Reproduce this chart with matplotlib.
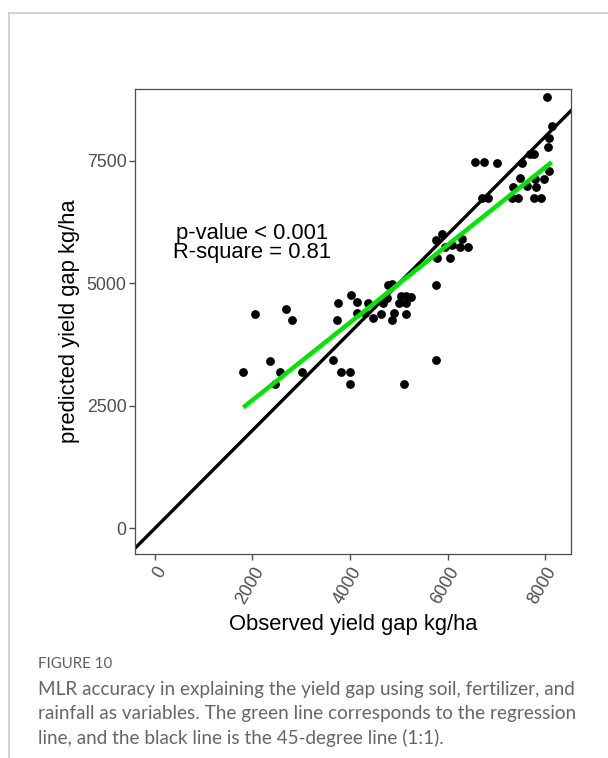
import numpy as np
import matplotlib.pyplot as plt
from matplotlib.lines import Line2D

# observed vs predicted yield gap (kg/ha)
observed = [1814, 2054, 2367, 2464, 2566, 2683, 2818, 3017,
            3645, 3809, 4000, 4000, 5099, 5761,
            3727, 3760, 4014, 4149, 4137, 4307, 4374, 4477, 4628, 4682,
            4751, 4784, 4854, 4854, 4901, 5000, 5150, 5040, 5140, 5250,
            5146, 5761,
            5761, 5878, 5787, 5945, 6047, 6082, 6287, 6252, 6422,
            6560, 6750, 7004, 6697, 6820, 7311, 7446, 7774, 7911,
            7332, 7481, 7618, 7788, 7809, 7973, 8081, 7516, 7686, 7774,
            8061, 8081, 8130, 8028]
predicted = [3194, 4378, 3424, 2949, 3194, 4486, 4255, 3194,
             3430, 3194, 3194, 2949, 2949, 3439,
             4255, 4596, 4765, 4629, 4392, 4392, 4596, 4290, 4378, 4596,
             4710, 4969, 4984, 4255, 4392, 4600, 4600, 4750, 4735, 4731,
             4378, 4969,
             5888, 6010, 5514, 5751, 5514, 5786, 5902, 5751, 5751,
             7473, 7486, 7465, 6739, 6739, 6739, 6739, 6739, 6739,
             6976, 7147, 6990, 7127, 6963, 7127, 7302, 7453, 7637, 7637,
             7780, 7963, 8214, 8800]

x_ticks = [0, 2000, 4000, 6000, 8000]
y_ticks = [0, 2500, 5000, 7500]
stats_text = ["p-value < 0.001", "R-square = 0.81"]

caption_head = "FIGURE 10"
caption_lines = [
    "MLR accuracy in explaining the yield gap using soil, fertilizer, and",
    "rainfall as variables. The green line corresponds to the regression",
    "line, and the black line is the 45-degree line (1:1).",
]

plt.rcParams['font.family'] = ['Liberation Sans', 'DejaVu Sans']

fig = plt.figure(figsize=(6.08, 7.58), dpi=100)
ax = fig.add_axes([0.2219, 0.2687, 0.7172, 0.6142])

obs = np.array(observed, dtype=float)
pred = np.array(predicted, dtype=float)

ax.scatter(obs, pred, s=40, color='black', linewidths=0, zorder=3)

# 1:1 line
ax.axline((0, 0), slope=1, color='black', lw=2.4, zorder=2)

# linear fit of predicted on observed
slope, intercept = np.polyfit(obs, pred, 1)
xs = np.array([obs.min(), obs.max()])
ax.plot(xs, intercept + slope * xs, color='#00e600', lw=3.2, zorder=4,
        solid_capstyle='butt')

ax.text(1993, 6024, stats_text[0], ha='center', va='center', fontsize=15.8)
ax.text(1993, 5637, stats_text[1], ha='center', va='center', fontsize=15.8)

ax.set_xlim(-405, 8525)
ax.set_ylim(-527, 8973)
ax.set_xticks(x_ticks)
ax.set_yticks(y_ticks)
ax.set_xticklabels([str(t) for t in x_ticks], rotation=60, ha='right',
                   va='top', rotation_mode='anchor')
ax.tick_params(colors='#4d4d4d', labelsize=12.8, length=4, width=1,
               direction='out')
ax.tick_params(axis='y', pad=2)
ax.tick_params(axis='x', pad=3)
for sp in ax.spines.values():
    sp.set_color('#4d4d4d')
    sp.set_linewidth(0.9)

ax.set_xlabel("Observed yield gap kg/ha", fontsize=15.8, labelpad=5)
ax.set_ylabel("predicted yield gap kg/ha", fontsize=15.8, labelpad=5)

# page frame lines
fig.add_artist(Line2D([0.0153, 0.0153], [0, 0.9831], color='#cccccc', lw=1.2))
fig.add_artist(Line2D([0.0153, 1.0], [0.9831, 0.9831], color='#cccccc', lw=1.2))

fig.text(0.062, 1 - 664 / 758, caption_head, fontsize=10.8, color='#5e5e5e',
         family=['Lato', 'DejaVu Sans'], va='center')
for i, line in enumerate(caption_lines):
    fig.text(0.062, 1 - (689 + 24.5 * i) / 758, line, fontsize=13.6,
             color='#666666', family=['Lato', 'DejaVu Sans'], va='center')

fig.savefig('out.png', dpi=100)
